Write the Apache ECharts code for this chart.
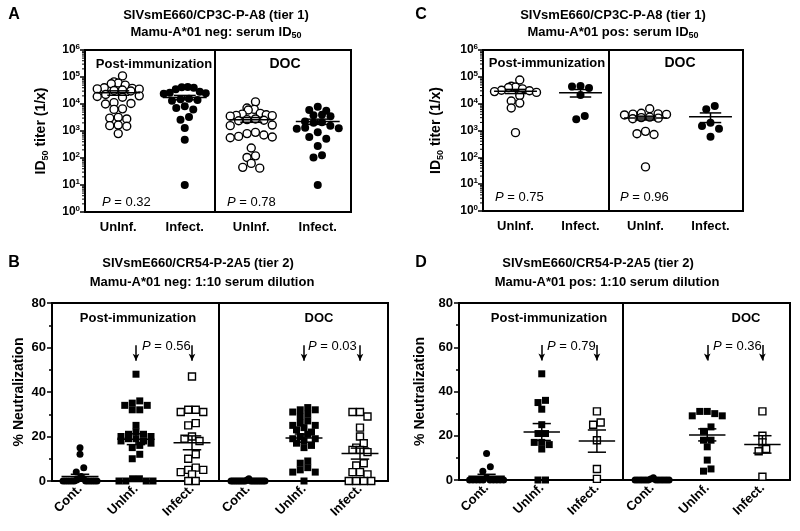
<!DOCTYPE html>
<html>
<head>
<meta charset="utf-8">
<script src="https://cdn.jsdelivr.net/npm/echarts@6/dist/echarts.min.js"></script>
<style>
html, body { margin: 0; padding: 0; background: #fff; }
#main { width: 800px; height: 531px; }
</style>
</head>
<body>
<div id="main"></div>
<script>
var FONT = '"Liberation Sans", Arial, Helvetica, sans-serif';

// tick / category labels
var titerCats = ['UnInf.', 'Infect.', 'UnInf.', 'Infect.'];
var neutCats = ['Cont.', 'UnInf.', 'Infect.', 'Cont.', 'UnInf.', 'Infect.'];

// A: CP3C-P-A8, Mamu-A*01 neg, serum ID50
var aPostUninf = [110000, 66000, 60000, 56000, 50000, 40000, 38000, 36300, 35500, 33000, 31600, 30200, 22400, 20000,
  19000, 17800, 11200, 10500, 10000, 6600, 6300, 3200, 3000, 2800, 1660, 1580, 1500, 800];
var aPostInfect = [42700, 41700, 39800, 35500, 28200, 26300, 25100, 24000, 15800, 15100, 14100, 13200, 8300, 7100,
  6300, 3300, 2600, 1300, 470, 10];
var aDocUninf = [12000, 7100, 6300, 6000, 4500, 4200, 4000, 3800, 3700, 3550, 2800, 2630, 2500, 2400, 1660, 1580,
  890, 800, 710, 630, 600, 560, 235, 120, 105, 63, 45, 42];
var aDocInfect = [7900, 6000, 5600, 4000, 3800, 3550, 2240, 2090, 2000, 1580, 1320, 1260, 1200, 890, 600, 520, 280,
  126, 105, 10];

// C: CP3C-P-A8, Mamu-A*01 pos, serum ID50
var cPostUninf = [76000, 44700, 41700, 39800, 35500, 31600, 30200, 28200, 26300, 20000, 12600, 10500, 6900, 830];
var cPostInfect = [45700, 43600, 38000, 20900, 3470, 2630];
var cDocUninf = [6460, 4370, 4170, 4070, 3980, 3800, 3160, 3020, 2880, 2750, 930, 760, 710, 44];
var cDocInfect = [8100, 6200, 1950, 1480, 1170, 590];

// B: CR54-P-2A5, Mamu-A*01 neg, % neutralization at 1:10
var bPostCont = [15, 12, 6, 4, 2, 1, 1, 0.5, 0, 0, 0, 0, 0, 0, 0, 0, 0, 0, 0, 0];
var bPostUninf = [48, 36, 35, 34, 34, 32, 32, 25, 22, 21, 21, 20, 20, 19, 19, 18, 18, 17, 16, 15, 12, 10, 1, 1, 0, 0, 0, 0];
var bPostInfect = [47, 32, 32, 31, 31, 26, 25, 20, 19, 18, 12, 10, 6, 5, 5, 4, 3, 0, 0];
var bDocCont = [1, 0.5, 0, 0, 0, 0, 0, 0, 0, 0, 0, 0, 0, 0, 0, 0, 0, 0, 0, 0];
var bDocUninf = [33, 32, 32, 31, 30, 29, 27, 26, 25, 25, 24, 23, 22, 21, 20, 19, 19, 18, 17, 16, 15, 9, 8, 6, 5, 4, 4, 0];
var bDocInfect = [31, 31, 29, 24, 20, 17, 15, 14, 14, 13, 8, 7, 4, 4, 3, 0, 0, 0, 0];

// D: CR54-P-2A5, Mamu-A*01 pos, % neutralization at 1:10
var dPostCont = [12, 6, 4, 1, 0, 0, 0, 0, 0, 0, 0, 0, 0, 0];
var dPostUninf = [48, 36, 35, 32, 25, 21, 21, 17, 17, 16, 14, 0, 0];
var dPostInfect = [31, 26, 25, 18, 5, 0.5];
var dDocCont = [1, 0.5, 0, 0, 0, 0, 0, 0, 0, 0, 0, 0, 0, 0];
var dDocUninf = [31, 31, 30, 29, 29, 24, 22, 18, 18, 15, 9, 5, 4];
var dDocInfect = [31, 20, 17, 14, 13, 1.5];

var panels = [
  { id: 'A', grid: { left: 85, top: 50, width: 266, height: 162 }, log: true, cats: titerCats, split: 1.45,
    sym: 8, half: 21, nameGap: 35,
    groups: [[aPostUninf, 'circle', false], [aPostInfect, 'circle', true], [aDocUninf, 'circle', false], [aDocInfect, 'circle', true]] },
  { id: 'C', grid: { left: 483, top: 50, width: 260, height: 161 }, log: true, cats: titerCats, split: 1.44,
    sym: 8, half: 21, nameGap: 38,
    groups: [[cPostUninf, 'circle', false], [cPostInfect, 'circle', true], [cDocUninf, 'circle', false], [cDocInfect, 'circle', true]] },
  { id: 'B', grid: { left: 52, top: 303, width: 336, height: 178 }, log: false, cats: neutCats, split: 2.47,
    sym: 7, half: 17, nameGap: 26, arrows: [1, 2, 4, 5],
    groups: [[bPostCont, 'circle', true], [bPostUninf, 'rect', true], [bPostInfect, 'rect', false],
      [bDocCont, 'circle', true], [bDocUninf, 'rect', true], [bDocInfect, 'rect', false]] },
  { id: 'D', grid: { left: 459, top: 303, width: 331, height: 177 }, log: false, cats: neutCats, split: 2.47,
    sym: 7, half: 17, nameGap: 32, arrows: [1, 2, 4, 5],
    groups: [[dPostCont, 'circle', true], [dPostUninf, 'rect', true], [dPostInfect, 'rect', false],
      [dDocCont, 'circle', true], [dDocUninf, 'rect', true], [dDocInfect, 'rect', false]] }
];

function stats(vals, pos) {
  var n = vals.length, m = 0, s = 0;
  vals.forEach(function (v) { m += v; });
  m /= n;
  vals.forEach(function (v) { s += (v - m) * (v - m); });
  var sem = Math.sqrt(s / (n - 1)) / Math.sqrt(n);
  return [pos, m, m - sem, m + sem];
}

function meanItem(params, api) {
  var x = api.value(0), m = api.value(1);
  var L = api.coord([x - 0.33, m]), R = api.coord([x + 0.33, m]);
  var hi = api.coord([x, api.value(3)]), lo = api.coord([x, api.value(2)]);
  var cw = (R[0] - L[0]) / 4;
  function ln(x1, y1, x2, y2) {
    return { type: 'line', shape: { x1: x1, y1: y1, x2: x2, y2: y2 }, style: { stroke: '#000', lineWidth: 1.5 } };
  }
  return { type: 'group', children: [
    ln(L[0], L[1], R[0], R[1]),
    ln(hi[0], hi[1], lo[0], lo[1]),
    ln(hi[0] - cw, hi[1], hi[0] + cw, hi[1]),
    ln(lo[0] - cw, lo[1], lo[0] + cw, lo[1])
  ] };
}

function minorItem(params, api) {
  var p = api.coord([api.value(0), api.value(1)]);
  return { type: 'line', shape: { x1: p[0] - 3, y1: p[1], x2: p[0], y2: p[1] }, style: { stroke: '#000', lineWidth: 1 } };
}

var minorVals = [];
for (var e = 0; e < 6; e++) {
  for (var k = 2; k < 10; k++) minorVals.push([-0.5, k * Math.pow(10, e)]);
}

var bold = function (size, extra) {
  return Object.assign({ fontFamily: FONT, fontWeight: 'bold', fontSize: size, color: '#000' }, extra || {});
};

var grids = [], xAxes = [], yAxes = [], series = [], scatterRefs = [];

panels.forEach(function (p, i) {
  grids.push(Object.assign({ show: true, borderColor: '#000', borderWidth: 2 }, p.grid));
  xAxes.push({
    type: 'category', gridIndex: i, data: p.cats,
    axisLine: { onZero: false, lineStyle: { color: '#000', width: 2 } },
    axisTick: { alignWithLabel: true, length: 4, lineStyle: { color: '#000', width: 1.5 } },
    axisLabel: bold(13, { margin: p.log ? 9 : 6, rotate: p.log ? 0 : 45, interval: 0 })
  });
  xAxes.push({ type: 'value', gridIndex: i, min: -0.5, max: p.cats.length - 0.5, show: false });

  var yAx = {
    gridIndex: i, nameLocation: 'middle', nameGap: p.nameGap,
    axisLine: { show: true, onZero: false, lineStyle: { color: '#000', width: 2 } },
    axisTick: { show: true, length: 5, lineStyle: { color: '#000', width: 1.5 } },
    splitLine: { show: false }
  };
  if (p.log) {
    Object.assign(yAx, {
      type: 'log', logBase: 10, min: 1, max: 1e6, splitNumber: 6,
      name: '{b|ID}{s|50}{b| titer (1/x)}',
      nameTextStyle: { rich: {
        b: bold(14, { lineHeight: 18 }),
        s: bold(9, { lineHeight: 6, verticalAlign: 'bottom' })
      } },
      axisLabel: {
        margin: 5,
        formatter: function (v) { return '{b|10}{s|' + Math.round(Math.log10(v)) + '}'; },
        rich: {
          b: bold(12, { lineHeight: 14 }),
          s: bold(8, { lineHeight: 6, verticalAlign: 'top' })
        }
      }
    });
  } else {
    Object.assign(yAx, {
      type: 'value', min: 0, max: 80, interval: 20,
      name: '% Neutralization', nameTextStyle: bold(14),
      minorTick: { show: true, splitNumber: 2, length: 3, lineStyle: { color: '#000', width: 1.5 } },
      axisLabel: bold(13, { margin: 6 })
    });
  }
  yAxes.push(yAx);

  p.groups.forEach(function (g, j) {
    var s = {
      type: 'scatter', xAxisIndex: 2 * i + 1, yAxisIndex: i, silent: true, z: 3,
      symbol: g[1], symbolSize: p.sym,
      itemStyle: { color: g[2] ? '#000' : '#fff', borderColor: '#000', borderWidth: g[2] ? 0 : 1.4, opacity: 1 },
      data: g[0].map(function (v) { return [j, v]; })
    };
    if (j === 0) {
      var ml = [{ xAxis: p.split, lineStyle: { width: 2 } }];
      (p.arrows || []).forEach(function (a) {
        ml.push([{ coord: [a, 61], symbol: 'none' }, { coord: [a, 54], symbol: 'arrow', symbolSize: [5, 7] }]);
      });
      s.markLine = {
        silent: true, symbol: ['none', 'none'], label: { show: false },
        lineStyle: { color: '#000', width: 1.5, type: 'solid' }, data: ml
      };
    }
    scatterRefs.push({ s: s, vals: g[0], pos: j, panel: p, idx: i });
    series.push(s);
  });

  series.push({
    type: 'custom', xAxisIndex: 2 * i + 1, yAxisIndex: i, silent: true, z: 4, clip: false,
    renderItem: meanItem,
    data: p.groups.map(function (g, j) { return stats(g[0], j); })
  });
  if (p.log) {
    series.push({
      type: 'custom', xAxisIndex: 2 * i + 1, yAxisIndex: i, silent: true, z: 5, clip: false,
      renderItem: minorItem, data: minorVals
    });
  }
});

function txt(x, y, text, size, weight, align, rich) {
  var st = { x: x, y: y, text: text, fill: '#000', textAlign: align || 'center', textVerticalAlign: 'middle',
    font: (weight || 'bold') + ' ' + size + 'px ' + FONT };
  if (rich) st.rich = rich;
  return { type: 'text', silent: true, style: st };
}
var subRich = {
  b: bold(13, { lineHeight: 16 }),
  s: bold(9, { lineHeight: 6, verticalAlign: 'bottom' })
};
var pRich = {
  i: { fontFamily: FONT, fontSize: 13, fontStyle: 'italic', color: '#000' },
  n: { fontFamily: FONT, fontSize: 13, color: '#000' }
};
function pval(x, y, v) { return txt(x, y, '{i|P}{n| = ' + v + '}', 13, 'normal', 'left', pRich); }

var texts = [
  txt(14, 15, 'A', 16), txt(421, 15, 'C', 16), txt(14, 263, 'B', 16), txt(421, 263, 'D', 16),
  txt(216, 15, 'SIVsmE660/CP3C-P-A8 (tier 1)', 13),
  txt(216, 32, '{b|Mamu-A*01 neg: serum ID}{s|50}', 13, 'bold', 'center', subRich),
  txt(613, 15, 'SIVsmE660/CP3C-P-A8 (tier 1)', 13),
  txt(613, 32, '{b|Mamu-A*01 pos: serum ID}{s|50}', 13, 'bold', 'center', subRich),
  txt(198, 263, 'SIVsmE660/CR54-P-2A5 (tier 2)', 13),
  txt(202, 282, 'Mamu-A*01 neg: 1:10 serum dilution', 13),
  txt(598, 263, 'SIVsmE660/CR54-P-2A5 (tier 2)', 13),
  txt(607, 282, 'Mamu-A*01 pos: 1:10 serum dilution', 13),
  txt(154, 64, 'Post-immunization', 13), txt(285, 64, 'DOC', 14),
  txt(547, 63, 'Post-immunization', 13), txt(680, 63, 'DOC', 14),
  txt(138, 318, 'Post-immunization', 13), txt(319, 318, 'DOC', 13),
  txt(549, 318, 'Post-immunization', 13), txt(746, 318, 'DOC', 13),
  pval(102, 202, '0.32'), pval(227, 202, '0.78'),
  pval(495, 197, '0.75'), pval(620, 197, '0.96'),
  pval(142, 346, '0.56'), pval(308, 346, '0.03'),
  pval(547, 346, '0.79'), pval(713, 346, '0.36')
];

var option = {
  animation: false,
  backgroundColor: '#fff',
  textStyle: { fontFamily: FONT },
  grid: grids, xAxis: xAxes, yAxis: yAxes, series: series,
  graphic: texts
};

var chart = echarts.init(document.getElementById('main'));
chart.setOption(option);

// scatter-dot layout: rows by pixel height, spread sideways within a row
function swarm(ref) {
  var p = ref.panel, xi = 2 * ref.idx + 1, yi = ref.idx;
  var unit = chart.convertToPixel({ xAxisIndex: xi }, 1) - chart.convertToPixel({ xAxisIndex: xi }, 0);
  var items = ref.vals.map(function (v) { return { v: v, y: chart.convertToPixel({ yAxisIndex: yi }, v) }; });
  items.sort(function (a, b) { return a.y - b.y; });
  var rows = [], row = null;
  items.forEach(function (it) {
    if (!row || it.y - row[0].y > p.sym * 0.85) { row = []; rows.push(row); }
    row.push(it);
  });
  var out = [];
  rows.forEach(function (r) {
    var n = r.length;
    var step = n > 1 ? Math.min(p.sym + 0.5, 2 * p.half / (n - 1)) : 0;
    r.forEach(function (it, i) {
      var slot = (i % 2 === 0 ? 1 : -1) * Math.ceil(i / 2);
      var off = n % 2 === 1 ? slot * step : (slot + 0.5) * step;
      out.push([ref.pos + off / unit, it.v]);
    });
  });
  return out;
}
scatterRefs.forEach(function (ref) { ref.s.data = swarm(ref); });
chart.setOption(option);
</script>
</body>
</html>
